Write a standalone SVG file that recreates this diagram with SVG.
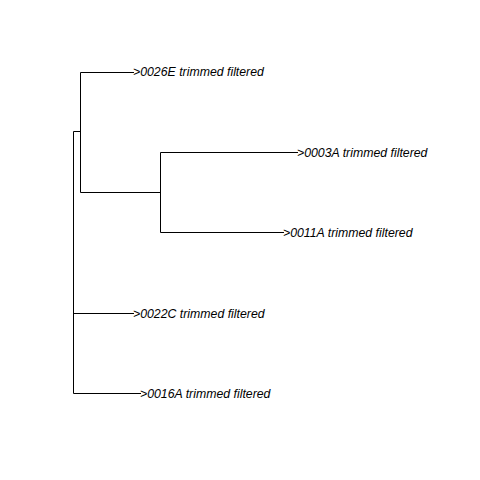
<svg xmlns="http://www.w3.org/2000/svg" width="480" height="480" viewBox="0 0 480 480">
<style>
.e{stroke:#000;stroke-width:1;fill:none}
.t{font-family:"Liberation Sans",Arial,sans-serif;font-size:12.3px;font-style:italic;fill:#000}
</style>
<rect width="480" height="480" fill="#fff"/>
<g id="edges">
<path class="e" d="M73.5,131.5H80.5M80.5,72.5V192.5M80.5,72.5H134M80.5,192.5H160.5M160.5,152.5V232.5M160.5,152.5H298M160.5,232.5H284M73.5,131.5V393.5M73.5,313.5H134M73.5,393.5H141"/>
</g>
<g id="n0026E"><text class="t" x="133" y="76">&gt;0026E trimmed filtered</text></g>
<g id="n0003A"><text class="t" x="297" y="157">&gt;0003A trimmed filtered</text></g>
<g id="n0011A"><text class="t" x="283" y="237">&gt;0011A trimmed filtered</text></g>
<g id="n0022C"><text class="t" x="133" y="318">&gt;0022C trimmed filtered</text></g>
<g id="n0016A"><text class="t" x="140" y="398">&gt;0016A trimmed filtered</text></g>
</svg>
